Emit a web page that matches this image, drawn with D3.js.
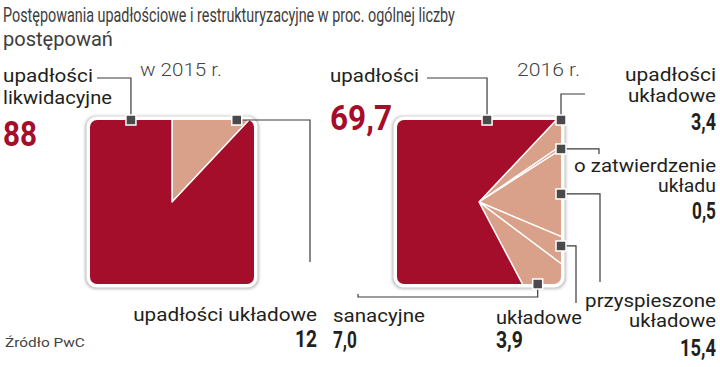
<!DOCTYPE html>
<html><head><meta charset="utf-8">
<script src="https://cdn.jsdelivr.net/npm/d3@7"></script>
<style>html,body{margin:0;padding:0;background:#fff;}svg{display:block;}</style>
</head><body>
<svg id="chart" width="720" height="367"></svg>
<script>
// ---- data ----
const titleLines = ["Postępowania upadłościowe i restrukturyzacyjne w proc. ogólnej liczby", "postępowań"];
const source = "Źródło PwC";
const years = ["w 2015 r.", "2016 r."];
const cats2015 = ["upadłości układowe", "upadłości likwidacyjne"];
const vals2015 = [12, 88];
const cats2016 = ["upadłości układowe", "o zatwierdzenie układu", "przyspieszone układowe", "układowe", "sanacyjne", "upadłości"];
const vals2016 = [3.4, 0.5, 15.4, 3.9, 7.0, 69.7];
const mainCats = ["upadłości likwidacyjne", "upadłości"];

// ---- styles / layout ----
const RED = "#a50e2b", SALMON = "#d9a08a", MARK = "#4a4a4c", INK = "#231f20";
const locale = d3.formatLocale({decimal: ",", thousands: " ", grouping: [3], currency: ["", ""]});
const svg = d3.select("#chart");
const FONT = "Roboto, 'Open Sans', sans-serif";

// text fitted to a target width by horizontal scaling (condensed look)
function fitText(parent, txt, x, y, width, anchor, attrs) {
  const t = parent.append("text").attr("text-anchor", anchor).text(txt);
  Object.entries(attrs).forEach(([k, v]) => t.attr(k, v));
  const nat = t.node().getComputedTextLength();
  const sx = width / nat;
  t.attr("transform", `translate(${x},${y}) scale(${sx},1)`);
  return t;
}

const defs = svg.append("defs");
const flt = defs.append("filter").attr("id", "sh").attr("x", "-10%").attr("y", "-10%").attr("width", "120%").attr("height", "120%");
flt.append("feGaussianBlur").attr("stdDeviation", 1.6);

// title
titleLines.forEach((t, i) => fitText(svg, t, 3, 22 + i * 24, [452, 110][i], "start",
  {"font-family": FONT, "font-weight": 400, "font-size": 21, "fill": "#3d3d3d"}));

fitText(svg, source, 5, 347, 80, "start", {"font-family": FONT, "font-size": 13, "fill": "#444"});

const charts = [
  {cats: cats2015, vals: vals2015, fmt: locale.format(".0f"), x: 90, y: 120, size: 164, start: 0,
   year: {x: 140, y: 76, w: 82},
   labels: {
     "upadłości likwidacyjne": {anchor: "start", x: 3, lines: [82, 104], widths: [90, 109], num: {y: 146, size: 35, w: 34, red: true},
        ang: -26.6, leader: m => [[m[0], 78], [97, 78]]},
     "upadłości układowe": {anchor: "end", x: 317, lines: [321], widths: [184], num: {y: 347, size: 24, w: 22},
        ang: 38.3, leader: m => [[310, m[1]], [310, 262]]}
   }},
  {cats: cats2016, vals: vals2016, fmt: locale.format(".1f"), x: 397, y: 120, size: 164, start: 43.3,
   year: {x: 517, y: 76, w: 63},
   labels: {
     "upadłości": {anchor: "start", x: 330, lines: [82], widths: [89], num: {y: 130, size: 35, w: 62, red: true},
        ang: 5.6, leader: m => [[m[0], 78], [427, 78]]},
     "upadłości układowe": {anchor: "end", x: 716, lines: [81, 102], widths: [91, 88], num: {y: 130, size: 24, w: 25},
        ang: 45, leader: m => [[m[0], 94], [585, 94]]},
     "o zatwierdzenie układu": {anchor: "end", x: 716, lines: [172, 192], widths: [142, 58], num: {y: 219, size: 24, w: 24},
        ang: 57.1, leader: m => [[599, m[1]], [599, 154]]},
     "przyspieszone układowe": {anchor: "end", x: 716, lines: [307, 327], widths: [131, 87], num: {y: 356, size: 24, w: 36},
        ang: 84.4, leader: m => [[600, m[1]], [600, 282]]},
     "układowe": {anchor: "start", x: 496, lines: [324], widths: [86], num: {y: 348, size: 24, w: 27},
        ang: 118.2, leader: m => [[576, m[1]], [576, 303]]},
     "sanacyjne": {anchor: "start", x: 333, lines: [322], widths: [92], num: {y: 348, size: 24, w: 24},
        ang: 144.4, leader: m => [[m[0], 297], [358, 297], [358, 294]]}
   }}
];

function squarePoint(cx, cy, h, a) {
  const s = Math.sin(a), c = -Math.cos(a);
  const t = h / Math.max(Math.abs(s), Math.abs(c));
  return [cx + s * t, cy + c * t];
}
function slicePath(cx, cy, h, a0, a1) {
  const pts = [[cx, cy], squarePoint(cx, cy, h, a0)];
  const q = Math.PI / 2;
  let k = Math.ceil((a0 - Math.PI / 4) / q);
  for (let ca = Math.PI / 4 + k * q; ca < a1; ca += q) if (ca > a0 + 1e-6) pts.push(squarePoint(cx, cy, h, ca));
  pts.push(squarePoint(cx, cy, h, a1));
  return d3.line()(pts) + "Z";
}
function splitLines(name, n) {
  const w = name.split(" ");
  if (n === 1) return [name];
  return [w.slice(0, -1).join(" "), w[w.length - 1]];
}

charts.forEach((ch, ci) => {
  const g = svg.append("g");
  const cx = ch.x + ch.size / 2, cy = ch.y + ch.size / 2, h = ch.size / 2;
  const rad = d3.scaleLinear().domain([0, 360]).range([0, 2 * Math.PI]);
  const color = d3.scaleOrdinal().domain(ch.cats).range(ch.cats.map(c => mainCats.includes(c) ? RED : SALMON));

  // frame
  g.append("rect").attr("x", ch.x - 5).attr("y", ch.y - 4).attr("width", ch.size + 10).attr("height", ch.size + 9)
    .attr("rx", 11).attr("fill", "#bdbdbd").attr("filter", "url(#sh)");
  g.append("rect").attr("x", ch.x - 3.5).attr("y", ch.y - 3.5).attr("width", ch.size + 7).attr("height", ch.size + 7)
    .attr("rx", 10).attr("fill", "#fff");

  const clipId = "clip" + ci;
  defs.append("clipPath").attr("id", clipId).append("rect")
    .attr("x", ch.x).attr("y", ch.y).attr("width", ch.size).attr("height", ch.size).attr("rx", 7);

  const pie = d3.pie().sort(null).value(d => d.v)
    .startAngle(rad(ch.start)).endAngle(rad(ch.start) + 2 * Math.PI);
  const arcs = pie(ch.cats.map((c, i) => ({c, v: ch.vals[i]})));
  g.append("g").attr("clip-path", `url(#${clipId})`).selectAll("path").data(arcs).join("path")
    .attr("d", d => slicePath(cx, cy, h * 1.2, d.startAngle, d.endAngle))
    .attr("fill", d => color(d.data.c)).attr("stroke", "#fff").attr("stroke-width", 1.4).attr("stroke-linejoin", "round");

  // year
  fitText(svg, years[ci], ch.year.x, ch.year.y, ch.year.w, "start",
    {"font-family": FONT, "font-weight": 300, "font-size": 18, "fill": "#444"});

  // labels, leaders, markers
  const lg = svg.append("g");
  arcs.forEach(d => {
    const L = ch.labels[d.data.c];
    if (!L) return;
    const m = squarePoint(cx, cy, h, rad(L.ang));
    const pts = [m].concat(L.leader(m));
    lg.append("path").attr("d", d3.line()(pts)).attr("fill", "none").attr("stroke", "#3a3a3a").attr("stroke-width", 1.2);
    lg.append("rect").attr("x", m[0] - 5).attr("y", m[1] - 5).attr("width", 10).attr("height", 10)
      .attr("fill", MARK).attr("stroke", "#fff").attr("stroke-width", 1.5);
    const lines = splitLines(d.data.c, L.lines.length);
    lines.forEach((t, i) => fitText(lg, t, L.x, L.lines[i], L.widths[i], L.anchor,
      {"font-family": FONT, "font-size": 19, "fill": INK}));
    fitText(lg, ch.fmt(d.data.v), L.x, L.num.y, L.num.w, L.anchor,
      {"font-family": FONT, "font-weight": 700, "font-size": L.num.size, "fill": L.num.red ? RED : INK});
  });
});
</script>
</body></html>
